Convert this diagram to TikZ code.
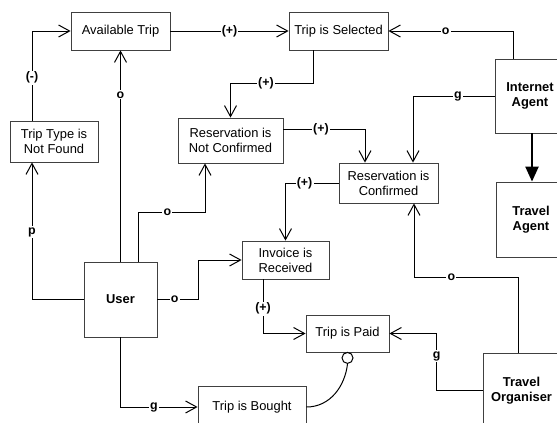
\documentclass[tikz,border=0pt]{standalone}
\usepackage{fontspec}
\setmainfont{Liberation Sans}
\usetikzlibrary{arrows.meta}

\tikzset{
  box/.style={draw=black!75, line width=0.8pt, fill=white, inner sep=0pt,
    align=center, font=\fontsize{12.9}{15}\selectfont},
  agent/.style={box, font=\fontsize{12.9}{15}\selectfont\bfseries},
  link/.style={line width=1pt, -{Straight Barb[length=11pt,width=12pt,line width=1pt]}},
  plain/.style={line width=1pt},
  lbl/.style={fill=white, inner sep=1.2pt, font=\fontsize{12.4}{14}\selectfont\bfseries},
  delegate/.style={line width=2.2pt, -{Triangle[length=15pt,width=13pt]}},
}

\begin{document}
\begin{tikzpicture}[x=1pt, y=-1pt]
  \useasboundingbox (0,0) rectangle (557,423);
  \clip (0,0) rectangle (557,423);

  % states and actors
  \node[box, minimum width=99, minimum height=38] (avail) at (120.5,31) {Available Trip};
  \node[box, minimum width=99, minimum height=38] (sel) at (338.5,31) {Trip is Selected};
  \node[box, minimum width=88, minimum height=41] (tnf) at (54,141.5) {Trip Type is\\Not Found};
  \node[box, minimum width=105, minimum height=45] (rnc) at (230.5,140.5) {Reservation is\\Not Confirmed};
  \node[box, minimum width=99, minimum height=40] (rc) at (388.5,183) {Reservation is\\Confirmed};
  \node[box, minimum width=87, minimum height=38] (inv) at (285.5,260) {Invoice is\\Received};
  \node[agent, minimum width=73, minimum height=75] (user) at (120.5,299.5) {User};
  \node[box, minimum width=83, minimum height=37] (paid) at (347.5,333.5) {Trip is Paid};
  \node[box, minimum width=108, minimum height=42] (bought) at (252,407) {Trip is Bought};
  \node[agent, minimum width=70, minimum height=74] (ia) at (530,96) {Internet\\Agent};
  \node[agent, minimum width=70, minimum height=75] (ta) at (531,219.5) {Travel\\Agent};
  \node[agent, minimum width=77, minimum height=75] (to) at (521.5,390.5) {Travel\\Organiser};
  \node[circle, draw, line width=1pt, fill=white, minimum size=11, inner sep=0pt]
    (ring) at ([yshift=-5.5pt]paid.south) {};

  % connectors
  \draw[link] ([xshift=-22pt]tnf.north) |- node[lbl, pos=0.24] {(-)} (avail.west);
  \draw[link] (avail.east) -- node[lbl] {(+)} (sel.west);
  \draw[link] (user.north) -- node[lbl, pos=0.79] {o} (avail.south);
  \draw[link] ([xshift=17.5pt]user.north) -- ++(0,-49)
    -| node[lbl, pos=0.22] {o} ([xshift=-25.5pt]rnc.south);
  \draw[link] (user.west) -| node[lbl, pos=0.745] {p} ([xshift=-22pt]tnf.south);
  \draw[link] (user.east) -- node[lbl, pos=0.42] {o} ++(41,0) |- (inv.west);
  \draw[link] (user.south) |- node[lbl, pos=0.716] {g} (bought.west);
  \draw[link] ([xshift=-25.5pt]sel.south) -- ++(0,33)
    -| node[lbl, pos=0.285] {(+)} (rnc.north);
  \draw[link] ([yshift=11.5pt]rnc.east) -| node[lbl, pos=0.23] {(+)} ([xshift=-23.5pt]rc.north);
  \draw[link] (ia.west) -| node[lbl, pos=0.225] {g} ([xshift=24.5pt]rc.north);
  \draw[link] ([xshift=-17pt]ia.north) |- node[lbl, pos=0.77] {o} (sel.east);
  \draw[delegate] ([xshift=2pt]ia.south) -- ([xshift=2pt]ia.south |- ta.north);
  \draw[link] (rc.west) -| node[lbl, pos=0.32] {(+)} (inv.north);
  \draw[link] ([xshift=-3.5pt]to.north) -- ++(0,-75)
    -| node[lbl, pos=0.32] {o} ([xshift=25.5pt]rc.south);
  \draw[link] (to.west) -- ++(-46,0) |- node[lbl, pos=0.3] {g} (paid.east);
  \draw[link] ([xshift=-22.5pt]inv.south) |- node[lbl, pos=0.27] {(+)} (paid.west);
  \draw[plain] (bought.east) .. controls +(24,0) and +(-2.5,22) .. (ring.south);
\end{tikzpicture}
\end{document}
